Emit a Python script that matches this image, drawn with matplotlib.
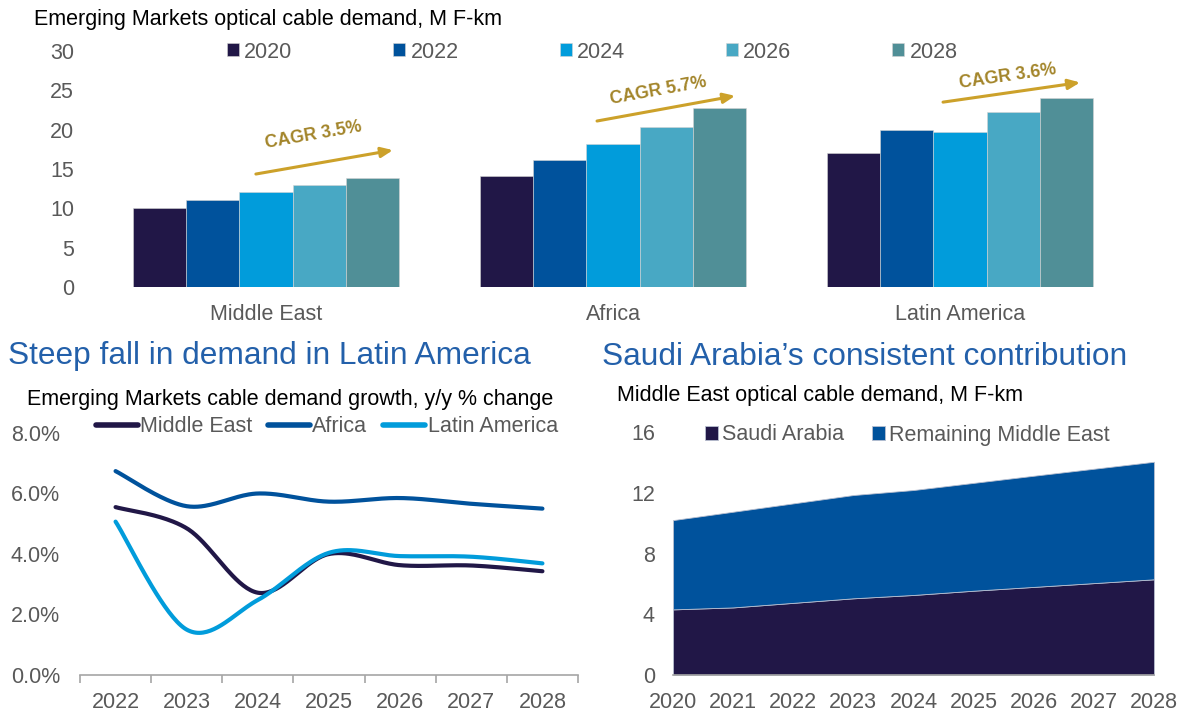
import numpy as np
import matplotlib
matplotlib.use('Agg')
import matplotlib.pyplot as plt
from matplotlib.lines import Line2D

plt.rcParams['font.family'] = ['Liberation Sans', 'DejaVu Sans']

# ---------------- data ----------------
regions = ['Middle East', 'Africa', 'Latin America']
bar_years = ['2020', '2022', '2024', '2026', '2028']
demand_2020 = [10.0, 14.1, 17.0]
demand_2022 = [11.05, 16.2, 19.9]
demand_2024 = [12.05, 18.15, 19.65]
demand_2026 = [13.0, 20.3, 22.3]
demand_2028 = [13.9, 22.7, 24.05]
cagr_labels = ['CAGR 3.5%', 'CAGR 5.7%', 'CAGR 3.6%']

growth_years = ['2022', '2023', '2024', '2025', '2026', '2027', '2028']
growth_me = [5.55, 4.85, 2.72, 4.0, 3.63, 3.62, 3.43]
growth_africa = [6.74, 5.58, 6.0, 5.73, 5.85, 5.66, 5.5]
growth_latam = [5.07, 1.5, 2.48, 4.04, 3.93, 3.91, 3.69]
growth_labels = ['Middle East', 'Africa', 'Latin America']

area_years = [2020, 2021, 2022, 2023, 2024, 2025, 2026, 2027, 2028]
saudi = [4.32, 4.45, 4.75, 5.05, 5.27, 5.55, 5.8, 6.05, 6.3]
remaining_me = [5.88, 6.3, 6.55, 6.8, 6.91, 7.1, 7.32, 7.53, 7.74]
area_labels = ['Saudi Arabia', 'Remaining Middle East']

# ---------------- style ----------------
C2020, C2022, C2024, C2026, C2028 = '#211747', '#00529C', '#019CDB', '#48A8C4', '#508F97'
GREY = '#595959'
AXGREY = '#A6A6A6'
HEAD = '#2360AA'
GOLD = '#CCA12A'
GOLDTXT = '#A3852A'
FS = 15.5
HFS = 22.8

W, H = 1187, 712
fig = plt.figure(figsize=(W / 100, H / 100), dpi=100)


def fx(px):
    return px / W


def fy(py):
    return 1 - py / H


# ---------------- top bar chart ----------------
ax1 = fig.add_axes([fx(90), fy(287), 1046 / W, 236 / H])
x = np.arange(len(regions))
bw = 53.3 / 347
series = [demand_2020, demand_2022, demand_2024, demand_2026, demand_2028]
colors = [C2020, C2022, C2024, C2026, C2028]
for i, (yr, vals, c) in enumerate(zip(bar_years, series, colors)):
    ax1.bar(x + (i - 2) * bw, vals, bw, color=c, edgecolor='#d4d4d4',
            linewidth=0.4, label=yr)
ax1.set_xlim(-0.507, 2.507)
ax1.set_ylim(0, 30)
ax1.set_yticks(np.arange(0, 31, 5))
ax1.set_xticks(x)
ax1.set_xticklabels(regions)
for s in ax1.spines.values():
    s.set_visible(False)
ax1.tick_params(axis='both', length=0, labelsize=FS, colors=GREY)
ax1.tick_params(axis='y', pad=11.5)
ax1.tick_params(axis='x', pad=12)
ax1.legend(ncol=5, loc='center left', bbox_to_anchor=(fx(227), fy(52)),
           bbox_transform=fig.transFigure, frameon=False, fontsize=FS,
           labelcolor=GREY, handlelength=0.56, handleheight=0.56,
           handletextpad=0.23, columnspacing=4.7, borderpad=0,
           borderaxespad=0)

# CAGR arrows (annotation positions in data units)
arrows = [((-0.029, 14.36), (0.366, 17.4), (0.138, 19.3), 9.9),
          ((0.954, 21.1), (1.352, 24.3), (1.130, 25.0), 10.3),
          ((1.951, 23.5), (2.346, 26.0), (2.138, 26.7), 8.3)]
for lab, (st, en, tp, ang) in zip(cagr_labels, arrows):
    ax1.annotate('', xy=en, xytext=st,
                 arrowprops=dict(arrowstyle='-|>,head_length=0.7,head_width=0.3',
                                 color=GOLD, lw=2.2, shrinkA=0, shrinkB=0))
    ax1.text(tp[0], tp[1], lab, rotation=ang, rotation_mode='anchor',
             ha='center', va='center', fontsize=12.8, fontweight='bold',
             color=GOLDTXT)

fig.text(fx(34), fy(19), 'Emerging Markets optical cable demand, M F-km',
         fontsize=FS, color='black', va='center', ha='left')


# ---------------- line chart ----------------
def smooth(xv, yv, n=40):
    xv = np.asarray(xv, float)
    yv = np.asarray(yv, float)
    P = np.column_stack([xv, yv])
    Pe = np.vstack([P[0], P, P[-1]])
    out = []
    for i in range(len(P) - 1):
        p0, p1, p2, p3 = Pe[i], Pe[i + 1], Pe[i + 2], Pe[i + 3]
        c1 = p1 + (p2 - p0) / 6
        c2 = p2 - (p3 - p1) / 6
        t = np.linspace(0, 1, n)[:, None]
        seg = ((1 - t) ** 3) * p1 + 3 * ((1 - t) ** 2) * t * c1 + \
            3 * (1 - t) * t ** 2 * c2 + t ** 3 * p2
        out.append(seg if i == 0 else seg[1:])
    out = np.vstack(out)
    return out[:, 0], out[:, 1]


ax2 = fig.add_axes([fx(80), fy(675), 498 / W, 242 / H])
xi = np.arange(len(growth_years))
for vals, c in zip([growth_me, growth_africa, growth_latam],
                   [C2020, C2022, C2024]):
    sx, sy = smooth(xi, vals)
    ax2.plot(sx, sy, color=c, lw=3, solid_capstyle='round')
ax2.set_xlim(-0.5, 6.5)
ax2.set_ylim(0, 8)
ax2.set_yticks([0, 2, 4, 6, 8])
ax2.set_yticklabels(['{:.1f}%'.format(v) for v in [0, 2, 4, 6, 8]])
ax2.set_xticks(xi)
ax2.set_xticklabels(growth_years)
ax2.set_xticks(np.arange(-0.5, 7, 1), minor=True)
for k in ['top', 'right', 'left']:
    ax2.spines[k].set_visible(False)
ax2.spines['bottom'].set_color(AXGREY)
ax2.spines['bottom'].set_linewidth(1.2)
ax2.tick_params(axis='both', which='major', length=0, labelsize=FS, colors=GREY)
ax2.tick_params(axis='x', which='minor', length=6, width=1.2, color=AXGREY)
ax2.tick_params(axis='y', pad=14.4)
ax2.tick_params(axis='x', which='major', pad=12)
handles = [Line2D([0], [0], color=c, lw=4, solid_capstyle='round')
           for c in [C2020, C2022, C2024]]
ax2.legend(handles, growth_labels, ncol=3, loc='center left',
           bbox_to_anchor=(fx(96), fy(427)), bbox_transform=fig.transFigure,
           frameon=False, fontsize=FS, labelcolor=GREY, handlelength=1.95,
           handletextpad=0.1, columnspacing=0.74, borderpad=0, borderaxespad=0)

fig.text(fx(8), fy(356), 'Steep fall in demand in Latin America', fontsize=HFS,
         color=HEAD, va='center', ha='left')
fig.text(fx(27), fy(400), 'Emerging Markets cable demand growth, y/y % change',
         fontsize=FS, color='black', va='center', ha='left')

# ---------------- area chart ----------------
ax3 = fig.add_axes([fx(673), fy(675), 481 / W, 243 / H])
ax3.stackplot(area_years, saudi, remaining_me, colors=[C2020, C2022],
              labels=area_labels, edgecolor='#b8bfd0', linewidth=0.6)
ax3.set_xlim(2020, 2028)
ax3.set_ylim(0, 16)
ax3.set_yticks([0, 4, 8, 12, 16])
ax3.set_xticks(area_years)
ax3.set_xticklabels([str(y) for y in area_years])
for k in ['top', 'right', 'left']:
    ax3.spines[k].set_visible(False)
ax3.spines['bottom'].set_color(AXGREY)
ax3.spines['bottom'].set_linewidth(1.2)
ax3.tick_params(axis='both', length=0, labelsize=FS, colors=GREY)
ax3.tick_params(axis='y', pad=13)
ax3.tick_params(axis='x', pad=12)
ax3.legend(ncol=2, loc='center left', bbox_to_anchor=(fx(705), fy(435)),
           bbox_transform=fig.transFigure, frameon=False, fontsize=FS,
           labelcolor=GREY, handlelength=0.6, handleheight=0.6,
           handletextpad=0.19, columnspacing=1.3, borderpad=0, borderaxespad=0)

fig.text(fx(602), fy(357), 'Saudi Arabia\u2019s consistent contribution',
         fontsize=HFS, color=HEAD, va='center', ha='left')
fig.text(fx(617), fy(396), 'Middle East optical cable demand, M F-km',
         fontsize=FS, color='black', va='center', ha='left')

fig.savefig('out.png', dpi=100)
